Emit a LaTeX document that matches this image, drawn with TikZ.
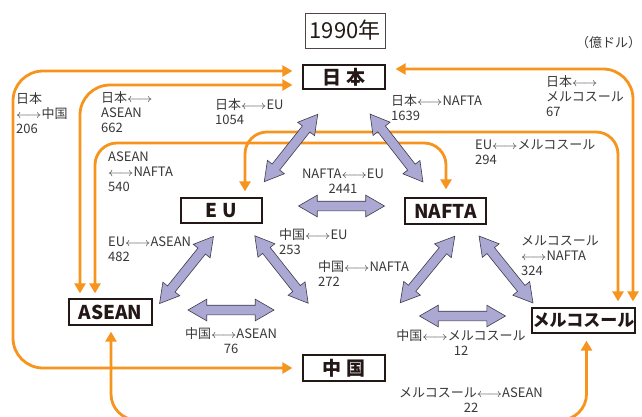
\documentclass[tikz,border=0pt]{standalone}
\usepackage{fontspec}
\setmainfont{Noto Sans CJK JP}
\usetikzlibrary{arrows.meta,shapes.arrows,calc}
\definecolor{orng}{RGB}{247,148,30}
\definecolor{lav}{RGB}{172,168,212}
\definecolor{edgegray}{RGB}{60,60,72}
\definecolor{ink}{RGB}{35,24,21}
\definecolor{lbl}{RGB}{56,56,56}
\newcommand{\lra}{\scalebox{1.15}[1]{$\longleftrightarrow$}}

\begin{document}
\begin{tikzpicture}[x=1pt,y=-1pt,
  region/.style={draw=ink, line width=1.3pt, fill=white, inner sep=0pt,
    text=ink, font=\fontsize{19}{19}\selectfont\bfseries},
  yearbox/.style={draw=ink!80, line width=0.9pt, fill=white, inner sep=0pt,
    text=ink, font=\fontsize{22}{22}\selectfont},
  lab/.style={text=lbl, inner sep=0pt, align=left, anchor=base west,
    font=\fontsize{13}{15}\selectfont},
  labc/.style={lab, align=center, anchor=base},
  oarr/.style={draw=orng, line width=2.8pt,
    {Triangle[length=10pt,width=11pt]}-{Triangle[length=10pt,width=11pt]}},
  parr/.style={double arrow, draw=edgegray, fill=lav, line width=0.6pt,
    inner xsep=0pt, inner ysep=4.5pt, minimum width=21pt, minimum height=86pt,
    double arrow head extend=6pt, double arrow tip angle=60, sloped, midway}
]
\useasboundingbox (0,0) rectangle (642,416);
\fill[white] (0,0) rectangle (642,416);

% regions
\node[yearbox, minimum width=80pt, minimum height=35pt] (title) at (345,30.5) {1990年};
\node[region, minimum width=82pt, minimum height=24pt] (jp) at (344,77) {日\hspace{5pt}本};
\node[region, minimum width=81pt, minimum height=25pt] (eu) at (221.5,210.5) {E\hspace{5pt}U};
\node[region, minimum width=81pt, minimum height=26pt] (nafta) at (445.5,211) {NAFTA};
\node[region, minimum width=83pt, minimum height=26pt] (asean) at (110.5,312) {ASEAN};
\node[region, minimum width=103pt, minimum height=25pt, font=\fontsize{17}{17}\selectfont\bfseries] (merc) at (583.5,320.5) {メルコスール};
\node[region, minimum width=82pt, minimum height=26pt] (cn) at (344,368) {中\hspace{5pt}国};

\node[lab, font=\fontsize{13}{15}\selectfont] (unit) at (576,47) {（億ドル）};

% long-distance trade links (orange)
\draw[oarr, rounded corners=30pt] ($(jp.west)+(-10,-6)$) -| (13,368) -- ($(cn.west)+(-10,0)$);
\draw[oarr, rounded corners=30pt] ($(jp.west)+(-10,8)$) -| ($(asean.north)+(-30.5,-5)$);
\draw[oarr, rounded corners=22pt] ($(asean.north)+(-15.5,-5)$) |- (446,143) -- ($(nafta.north)+(0.5,-8)$);
\draw[oarr, rounded corners=22pt] ($(eu.north)+(23.5,-6)$) |- (618,132) -- ($(merc.north)+(34.5,-6)$);
\draw[oarr, rounded corners=30pt] ($(jp.east)+(10,-8)$) -| ($(merc.north)+(49.5,-6)$);
\draw[oarr, rounded corners=26pt] ($(asean.south)+(0.5,6)$) |- (586.5,420) -- ($(merc.south)+(3,7)$);

% neighbouring trade links (block arrows)
\coordinate (je1) at (318,114);  \coordinate (je2) at (264,182);
\coordinate (jn1) at (370,114);  \coordinate (jn2) at (423,182);
\coordinate (en1) at (298,206);  \coordinate (en2) at (385,206);
\coordinate (ea1) at (213,237);  \coordinate (ea2) at (160,303);
\coordinate (ec1) at (255,236);  \coordinate (ec2) at (308,303);
\coordinate (nc1) at (455,236);  \coordinate (nc2) at (400,303);
\coordinate (nm1) at (479,236);  \coordinate (nm2) at (533,303);
\coordinate (ac1) at (188,310);  \coordinate (ac2) at (274,310);
\coordinate (cm1) at (419,316);  \coordinate (cm2) at (506,316);
\foreach \a in {je,jn,en,ea,ec,nc,nm,ac,cm}
  \path (\a1) -- (\a2) node[parr] {};

% trade values (anchored at the baseline of the last line)
\node[lab] (l1) at (16,133) {日本\\\lra 中国\\206};
\node[lab] (l2) at (101,132) {日本\lra\\ASEAN\\662};
\node[lab] (l3) at (215,124) {日本\lra EU\\1054};
\node[lab] (l4) at (391,120) {日本\lra NAFTA\\1639};
\node[lab] (l5) at (546,116) {日本\lra\\メルコスール\\67};
\node[lab] (l6) at (108,191) {ASEAN\\\lra NAFTA\\540};
\node[lab] (l7) at (475,164) {EU\lra メルコスール\\294};
\node[labc] (l8) at (343,193) {NAFTA\lra EU\\2441};
\node[lab] (l9) at (108,261) {EU\lra ASEAN\\482};
\node[lab] (l10) at (279,254) {中国\lra EU\\253};
\node[lab] (l11) at (318,286) {中国\lra NAFTA\\272};
\node[lab] (l12) at (521,275) {メルコスール\\\lra NAFTA\\324};
\node[labc] (l13) at (231,353) {中国\lra ASEAN\\76};
\node[labc] (l14) at (461,355) {中国\lra メルコスール\\12};
\node[labc] (l15) at (471,412) {メルコスール\lra ASEAN\\22};
\end{tikzpicture}
\end{document}
